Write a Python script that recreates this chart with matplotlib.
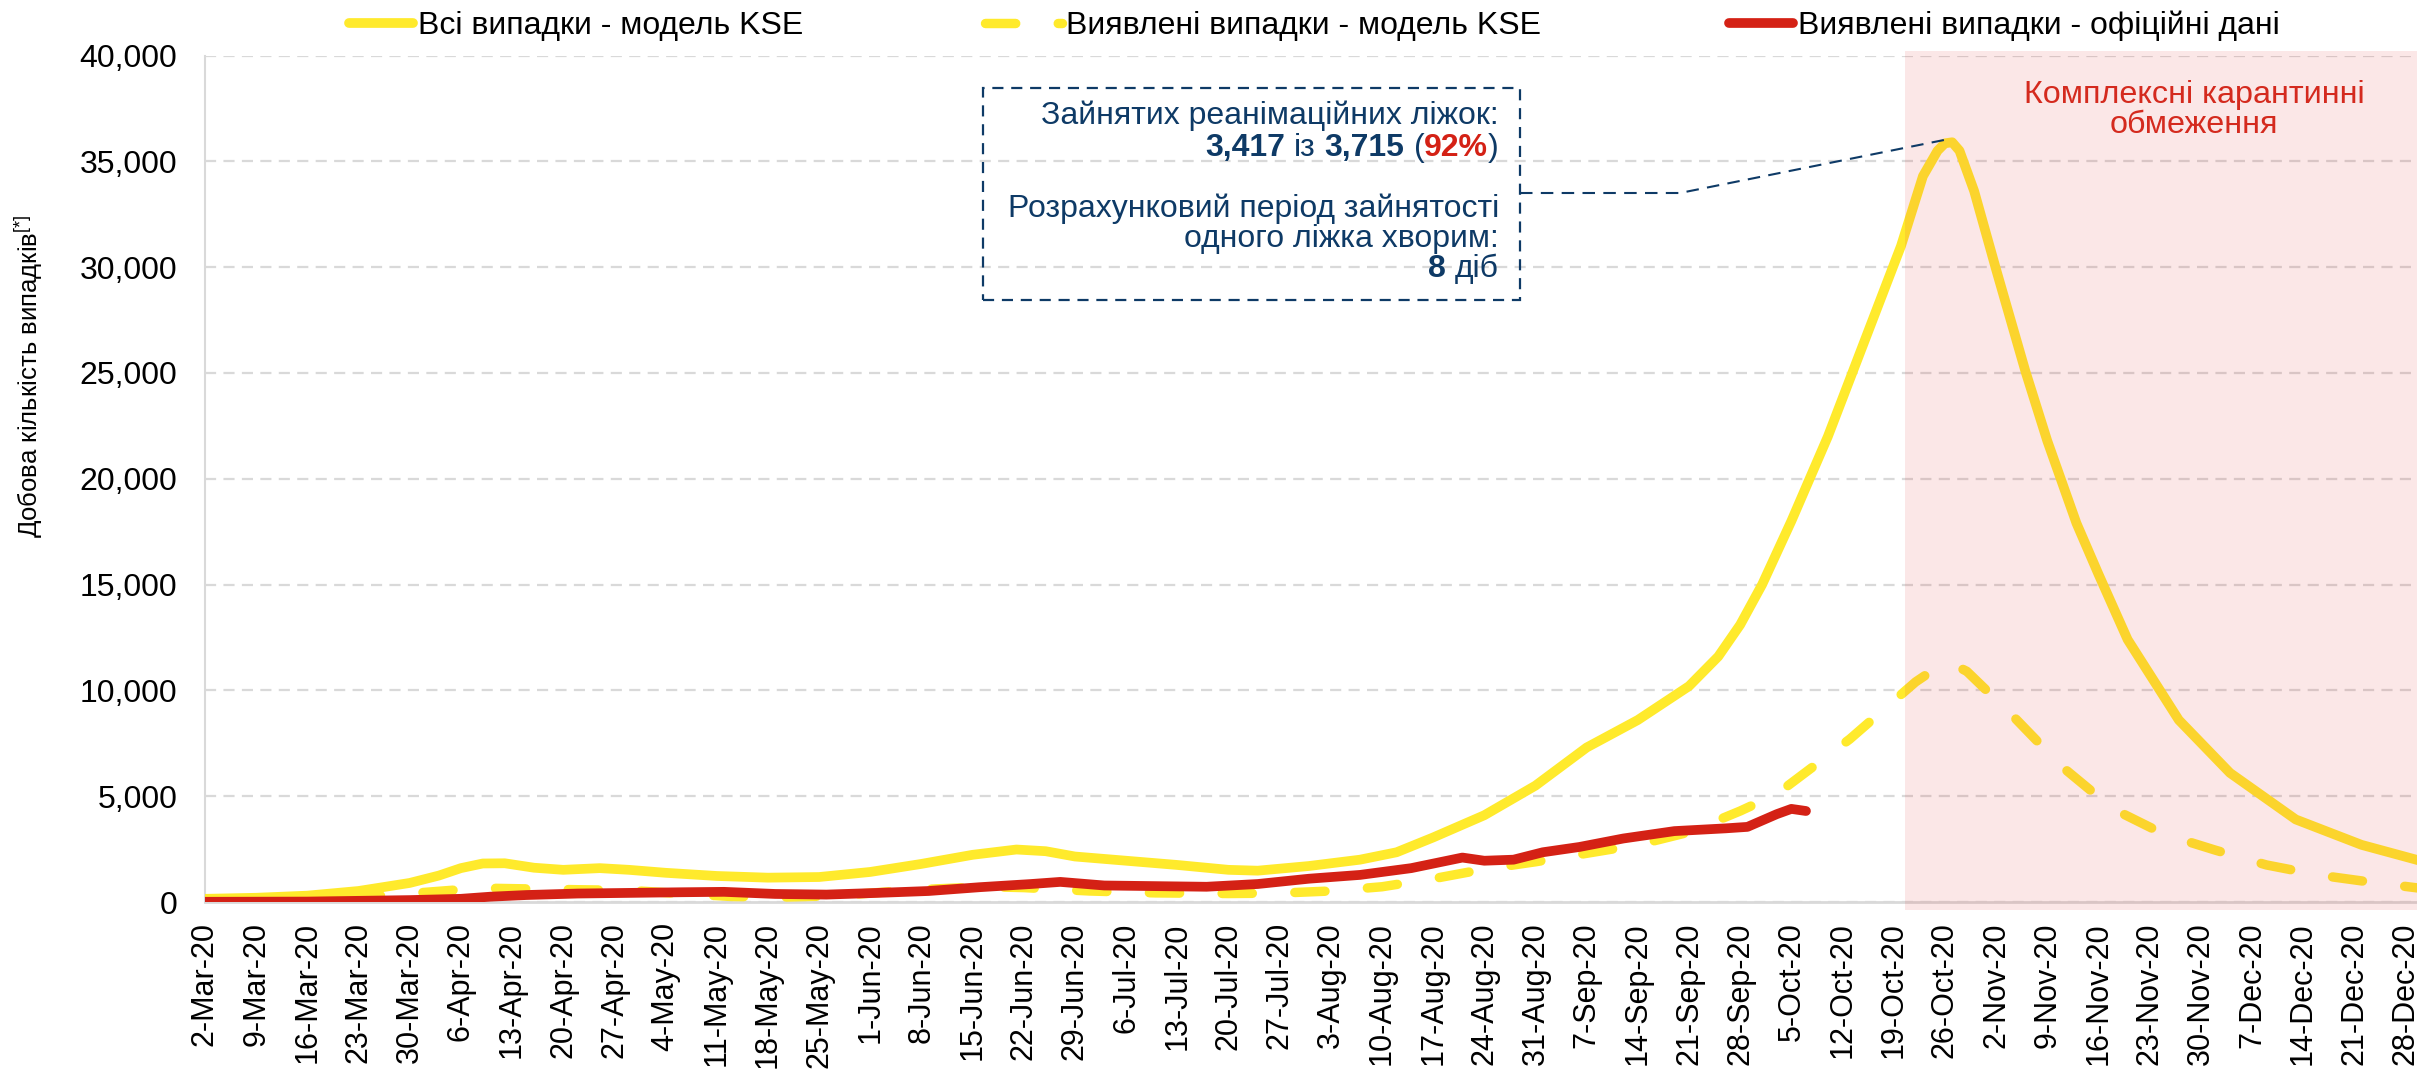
import matplotlib
matplotlib.use("Agg")
import matplotlib.pyplot as plt
import matplotlib.transforms as mtransforms
from matplotlib.patches import Rectangle
from matplotlib.ticker import StrMethodFormatter, MultipleLocator
import pandas as pd

plt.rcParams['font.family'] = ['Liberation Sans', 'DejaVu Sans']
plt.rcParams['mathtext.fontset'] = 'custom'
plt.rcParams['mathtext.rm'] = 'Liberation Sans'
plt.rcParams['mathtext.it'] = 'Liberation Sans:italic'
plt.rcParams['mathtext.bf'] = 'Liberation Sans:bold'

# ---------------- data ----------------
all_dates = ["2020-03-02", "2020-03-09", "2020-03-16", "2020-03-23", "2020-03-30", "2020-04-03",
             "2020-04-06", "2020-04-09", "2020-04-12", "2020-04-16", "2020-04-20", "2020-04-25",
             "2020-04-29", "2020-05-04", "2020-05-11", "2020-05-18", "2020-05-25", "2020-06-01",
             "2020-06-08", "2020-06-15", "2020-06-21", "2020-06-25", "2020-06-29", "2020-07-06",
             "2020-07-13", "2020-07-20", "2020-07-24", "2020-07-31", "2020-08-07", "2020-08-12",
             "2020-08-17", "2020-08-24", "2020-08-31", "2020-09-07", "2020-09-14", "2020-09-21",
             "2020-09-25", "2020-09-28", "2020-10-01", "2020-10-05", "2020-10-10", "2020-10-15",
             "2020-10-20", "2020-10-23", "2020-10-25", "2020-10-26", "2020-10-27", "2020-10-28",
             "2020-10-30", "2020-11-02", "2020-11-06", "2020-11-09", "2020-11-13", "2020-11-16",
             "2020-11-20", "2020-11-27", "2020-12-04", "2020-12-13", "2020-12-22", "2020-12-30"]
all_values = [150, 200, 300, 520, 900, 1250,
              1600, 1820, 1830, 1620, 1520, 1600,
              1520, 1380, 1230, 1150, 1180, 1420,
              1800, 2230, 2480, 2400, 2150, 1950,
              1750, 1520, 1480, 1700, 2000, 2350,
              3050, 4100, 5500, 7300, 8600, 10200,
              11600, 13100, 15000, 18000, 22000, 26500,
              31000, 34300, 35500, 35850, 35900, 35500,
              33600, 29900, 25100, 21800, 17900, 15500,
              12400, 8600, 6100, 3900, 2700, 1950]

det_dates = ["2020-03-02", "2020-03-16", "2020-03-23", "2020-03-30", "2020-04-05", "2020-04-10",
             "2020-04-15", "2020-04-22", "2020-04-29", "2020-05-06", "2020-05-13", "2020-05-20",
             "2020-05-27", "2020-06-03", "2020-06-10", "2020-06-17", "2020-06-22", "2020-07-01",
             "2020-07-10", "2020-07-20", "2020-07-27", "2020-08-03", "2020-08-10", "2020-08-17",
             "2020-08-24", "2020-08-31", "2020-09-07", "2020-09-14", "2020-09-21", "2020-09-28",
             "2020-10-03", "2020-10-08", "2020-10-13", "2020-10-18", "2020-10-22", "2020-10-25",
             "2020-10-27", "2020-10-29", "2020-11-01", "2020-11-04", "2020-11-11", "2020-11-18",
             "2020-11-25", "2020-12-02", "2020-12-09", "2020-12-16", "2020-12-23", "2020-12-30"]
det_values = [50, 120, 220, 400, 560, 650,
              620, 580, 550, 400, 260, 230,
              290, 470, 620, 720, 680, 520,
              430, 400, 420, 520, 720, 1100,
              1550, 1900, 2300, 2700, 3300, 4300,
              5100, 6400, 7700, 9200, 10400, 11100,
              11250, 10900, 9900, 8900, 6400, 4400,
              3200, 2450, 1750, 1280, 950, 650]

off_dates = ["2020-03-02", "2020-03-16", "2020-03-30", "2020-04-06", "2020-04-10", "2020-04-15",
             "2020-04-22", "2020-04-29", "2020-05-06", "2020-05-12", "2020-05-19", "2020-05-26",
             "2020-06-02", "2020-06-09", "2020-06-16", "2020-06-23", "2020-06-27", "2020-07-03",
             "2020-07-10", "2020-07-17", "2020-07-24", "2020-07-31", "2020-08-07", "2020-08-14",
             "2020-08-21", "2020-08-24", "2020-08-28", "2020-09-01", "2020-09-06", "2020-09-12",
             "2020-09-19", "2020-09-26", "2020-09-29", "2020-10-03", "2020-10-05", "2020-10-07"]
off_values = [10, 20, 90, 150, 250, 330,
              400, 430, 460, 480, 380, 350,
              430, 520, 700, 850, 950, 780,
              750, 720, 850, 1100, 1280, 1600,
              2100, 1950, 2000, 2350, 2600, 3000,
              3350, 3480, 3550, 4150, 4400, 4300]

tick_labels = ["2-Mar-20", "9-Mar-20", "16-Mar-20", "23-Mar-20", "30-Mar-20", "6-Apr-20", "13-Apr-20",
               "20-Apr-20", "27-Apr-20", "4-May-20", "11-May-20", "18-May-20", "25-May-20", "1-Jun-20",
               "8-Jun-20", "15-Jun-20", "22-Jun-20", "29-Jun-20", "6-Jul-20", "13-Jul-20", "20-Jul-20",
               "27-Jul-20", "3-Aug-20", "10-Aug-20", "17-Aug-20", "24-Aug-20", "31-Aug-20", "7-Sep-20",
               "14-Sep-20", "21-Sep-20", "28-Sep-20", "5-Oct-20", "12-Oct-20", "19-Oct-20", "26-Oct-20",
               "2-Nov-20", "9-Nov-20", "16-Nov-20", "23-Nov-20", "30-Nov-20", "7-Dec-20", "14-Dec-20",
               "21-Dec-20", "28-Dec-20"]

series_names = ["Всі випадки - модель KSE", "Виявлені випадки - модель KSE",
                "Виявлені випадки - офіційні дані"]
quarantine_start = "2020-10-20 14:00"
beds_used, beds_total, beds_pct, bed_days = "3,417", "3,715", "92%", "8"

# ---------------- styling ----------------
YEL = '#FFEA2C'
RED = '#D42115'
NAVY = '#0E3A66'
GRID = '#D9D9D9'

W, H = 2417, 1071
fig = plt.figure(figsize=(W / 100, H / 100), dpi=100)
ax = fig.add_axes([205 / W, 1 - 902 / H, 2212 / W, 846.5 / H])

d_all = pd.to_datetime(all_dates)
d_det = pd.to_datetime(det_dates)
d_off = pd.to_datetime(off_dates)

l1, = ax.plot(d_all, all_values, color=YEL, lw=7, solid_capstyle='round',
              solid_joinstyle='round', zorder=3)
l2, = ax.plot(d_det, det_values, color=YEL, lw=6.8, linestyle=(0, (3.2, 4.5)),
              dash_capstyle='round', dash_joinstyle='round', zorder=3)
l3, = ax.plot(d_off, off_values, color=RED, lw=7, solid_capstyle='round',
              solid_joinstyle='round', zorder=4)

ax.set_ylim(0, 40000)
ax.set_xlim(pd.Timestamp("2020-03-02"), pd.Timestamp("2020-12-29 14:00"))
ax.yaxis.set_major_locator(MultipleLocator(5000))
ax.yaxis.set_major_formatter(StrMethodFormatter('{x:,.0f}'))
tick_dates = pd.to_datetime(tick_labels, format="%d-%b-%y")
ax.set_xticks(tick_dates)
ax.set_xticklabels(tick_labels, rotation=90, fontsize=22, ha='center', va='top')
ax.tick_params(axis='x', length=0, pad=14.5)
ax.tick_params(axis='y', length=0, pad=20, labelsize=23)

ax.grid(axis='y', color=GRID, lw=1.6, linestyle=(0, (5, 3.3)), zorder=1)
ax.set_axisbelow(True)
for s in ['top', 'right']:
    ax.spines[s].set_visible(False)
ax.spines['left'].set_color(GRID)
ax.spines['left'].set_linewidth(1.5)
ax.spines['bottom'].set_color(GRID)
ax.spines['bottom'].set_linewidth(2)

# quarantine shading (drawn over the lines, semi-transparent)
trans = mtransforms.blended_transform_factory(ax.transData, ax.transAxes)
x0 = matplotlib.dates.date2num(pd.Timestamp(quarantine_start))
x1 = ax.get_xlim()[1]
ax.add_patch(Rectangle((x0, -0.009), x1 - x0, 1.014, transform=trans,
                       facecolor='#E03C3C', alpha=0.12, edgecolor='none',
                       zorder=6, clip_on=False))
fig.text(2194 / W, 1 - 103 / H, "Комплексні карантинні", ha='center', va='baseline',
         fontsize=23.3, color='#D42A1E', zorder=8)
fig.text(2194 / W, 1 - 133 / H, "обмеження", ha='center', va='baseline',
         fontsize=23.3, color='#D42A1E', zorder=8)

# y label
fig.text(29 / W, 1 - 376 / H, r"Добова кількість випадків$^{[*]}$", rotation=90,
         ha='center', va='center', fontsize=18.5)

# legends
leg_specs = [(l1, series_names[0], 349, 2.0), (l2, series_names[1], 985, 2.4),
             (l3, series_names[2], 1729, 2.0)]
for h, lab, xp, hl in leg_specs:
    fig.legend(handles=[h], labels=[lab], loc='center left',
               bbox_to_anchor=(xp / W, 1 - 26 / H), bbox_transform=fig.transFigure,
               frameon=False, fontsize=23, handlelength=hl, handletextpad=0.15,
               borderpad=0, borderaxespad=0)

# annotation box
ax.add_patch(Rectangle((983 / W, 1 - 300 / H), (1520 - 983) / W, (300 - 88) / H,
                       transform=fig.transFigure, fill=False, edgecolor=NAVY, lw=1.6,
                       linestyle=(0, (5, 3.5)), zorder=7, clip_on=False))

# connector from box to peak of model curve
peak_i = all_values.index(max(all_values))
peak_x = matplotlib.dates.date2num(d_all[peak_i])
inv = ax.transData.inverted()
p_box = inv.transform((1520, H - 193))
p_knee = inv.transform((1680, H - 193))
p_peak = (peak_x - 0.5, max(all_values) + 150)
ax.plot([p_box[0], p_knee[0], p_peak[0]], [p_box[1], p_knee[1], p_peak[1]],
        color=NAVY, lw=1.5, linestyle=(0, (6, 4)), zorder=7, clip_on=False)

renderer = fig.canvas.get_renderer()
FS = 23


def text_width(s, bold=False):
    t = fig.text(0, 0, s, fontsize=FS, fontweight='bold' if bold else 'normal')
    w = t.get_window_extent(renderer).width
    t.remove()
    return w


space_w = text_width("n n") - text_width("nn")


def rich_line(x_right, baseline, pieces):
    x = x_right
    for txt, bold, color in reversed(pieces):
        if txt == ' ':
            x -= space_w
            continue
        t = fig.text(x / W, 1 - baseline / H, txt, ha='right', va='baseline',
                     fontsize=FS, fontweight='bold' if bold else 'normal',
                     color=color, zorder=8)
        x = t.get_window_extent(renderer).x0


XR = 1499
rich_line(XR, 124, [("Зайнятих реанімаційних ліжок:", False, NAVY)])
rich_line(XR, 156, [(beds_used, True, NAVY), (' ', 0, 0), ("із", False, NAVY), (' ', 0, 0),
                    (beds_total, True, NAVY), (' ', 0, 0), ("(", False, NAVY),
                    (beds_pct, True, RED), (")", False, NAVY)])
rich_line(XR, 217, [("Розрахунковий період зайнятості", False, NAVY)])
rich_line(XR, 247, [("одного ліжка хворим:", False, NAVY)])
rich_line(XR, 277, [(bed_days, True, NAVY), (' ', 0, 0), ("діб", False, NAVY)])

fig.savefig("out.png", dpi=100)
